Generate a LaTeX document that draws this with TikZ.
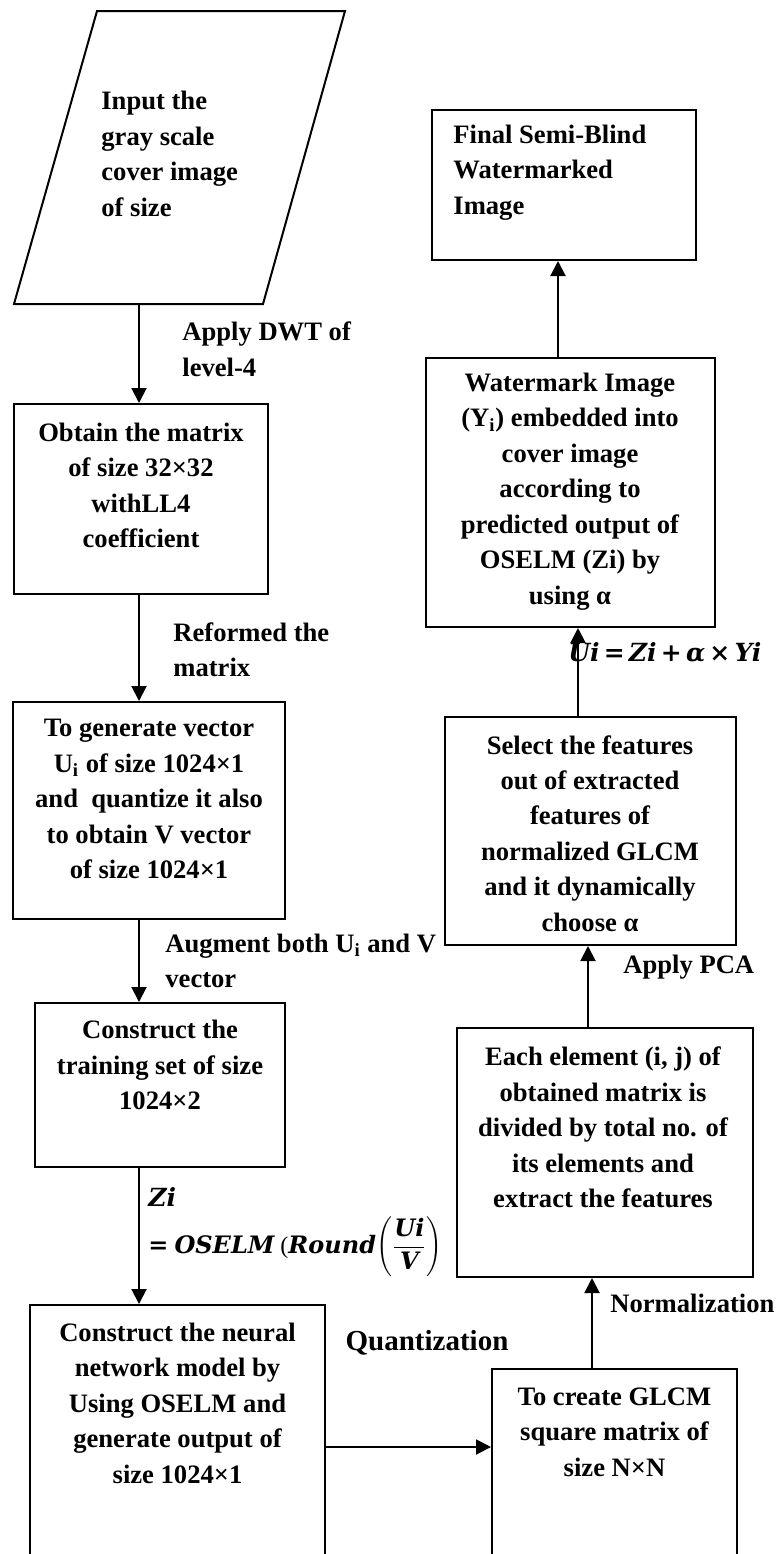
\documentclass[tikz,border=0pt]{standalone}
\usepackage{fontspec}
\setmainfont{Liberation Serif}
\newfontfamily\mathlike{DejaVu Serif}
\usetikzlibrary{arrows.meta,calc}
\newcommand{\bi}[1]{{\mathlike\bfseries\itshape #1}}
\begin{document}
\begin{tikzpicture}[x=0.5pt,y=-0.5pt,
  box/.style={draw,line width=1pt,inner sep=0pt},
  txt/.style={font=\fontsize{13.3}{17.75}\selectfont\bfseries, inner sep=0pt, align=center},
  lbl/.style={font=\fontsize{13.3}{17.75}\selectfont\bfseries, inner sep=0pt, align=left, anchor=west},
  frm/.style={font=\fontsize{12.5}{17}\selectfont, inner sep=0pt, anchor=west},
  arr/.style={line width=1pt, -{Triangle[width=7.5pt,length=7.5pt]}}]
\clip (0,0) rectangle (780,1554);
\fill[white] (0,0) rectangle (780,1554);
% input parallelogram
\coordinate (pa) at (97,11);
\coordinate (pb) at (345,11);
\coordinate (pc) at (263,304);
\coordinate (pd) at (14,304);
\coordinate (pin) at (139,304);
\draw[line width=1pt] (pa) -- (pb) -- (pc) -- (pd) -- cycle;
\node[lbl] (tin) at (101,154) {Input the\\gray scale\\cover image\\of size};
% boxes
\node[box, minimum width=127pt, minimum height=95pt] (b2) at (141,499) {};
\node[txt] (t2) at (141,485.5) {Obtain the matrix\\of size 32×32\\withLL4\\coefficient};
\node[box, minimum width=136pt, minimum height=108.5pt] (b3) at (149,810.5) {};
\node[txt] (t3) at (149,799) {To generate vector\\U\textsubscript{i} of size 1024×1\\and~ quantize it also\\to obtain V vector\\of size 1024×1};
\node[box, minimum width=125pt, minimum height=82pt] (b4) at (160,1085) {};
\node[txt] (t4) at (160,1065) {Construct the\\training set of size\\1024×2};
\node[box, minimum width=147.5pt, minimum height=142pt] (b5) at (177.5,1447) {};
\node[txt] (t5) at (177.5,1403) {Construct the neural\\network model by\\Using OSELM and\\generate output of\\size 1024×1};
\node[box, minimum width=122.5pt, minimum height=125.5pt] (b6) at (614.5,1494.5) {};
\node[txt] (t6) at (614.5,1432) {To create GLCM\\square matrix of\\size N×N};
\node[box, minimum width=148pt, minimum height=124.5pt] (b7) at (605,1152.5) {};
\node[txt] (t7) at (603,1127.5) {Each element (i, j) of\\obtained matrix is\\divided by total no. of\\its elements and\\extract the features};
\node[box, minimum width=145.5pt, minimum height=114pt] (b8) at (590.5,831) {};
\node[txt] (t8) at (590,833.5) {Select the features\\out of extracted\\features of\\normalized GLCM\\and it dynamically\\choose α};
\node[box, minimum width=144.5pt, minimum height=134.5pt] (b9) at (570.5,492.5) {};
\node[txt] (t9) at (570,491.5) {Watermark Image\\(Y\textsubscript{i}) embedded into\\cover image\\according to\\predicted output of\\OSELM (Zi) by\\using α};
\node[box, minimum width=132pt, minimum height=75pt] (b10) at (564,185) {};
\node[lbl] (t10) at (453,172.5) {Final Semi-Blind\\Watermarked\\Image};
% connectors
\coordinate (a6) at ([xshift=-11.25pt]b6.north);
\coordinate (a7) at ([xshift=-8.5pt]b7.north);
\coordinate (a8) at ([xshift=-6.25pt]b8.north);
\coordinate (a9) at ([xshift=-6.25pt]b9.north);
\draw[arr] (pin) -- (pin |- b2.north);
\draw[arr] (b2.south -| pin) -- (b3.north -| pin);
\draw[arr] (b3.south -| pin) -- (b4.north -| pin);
\draw[arr] (b4.south -| pin) -- (b5.north -| pin);
\draw[arr] (b5.east) -- (b5.east -| b6.west);
\draw[arr] (a6) -- (a6 |- b7.south);
\draw[arr] (a7) -- (a7 |- b8.south);
\draw[arr] (a8) -- (a8 |- b9.south);
\draw[arr] (a9) -- (a9 |- b10.south);
% labels
\node[lbl] (l1) at (182,349.5) {Apply DWT of\\level-4};
\node[lbl] (l2) at (173,650) {Reformed the\\matrix};
\node[lbl] (l3) at (165,961) {Augment both U\textsubscript{i} and V\\vector};
\node[frm] (l4a) at (148,1197) {\bi{Zi}};
\node[frm, font=\fontsize{12}{17}\selectfont] (l4b) at (148,1247) {\bi{=} \bi{OSELM} ({\bi{Round}}$\left(\displaystyle\frac{\hbox{\bi{Ui}}}{\hbox{\bi{V}}}\right)$};
\node[font=\fontsize{14.5}{18}\selectfont\bfseries, inner sep=0pt] (l5) at (427,1343) {Quantization};
\node[lbl] (l6) at (610,1303) {Normalization};
\node[lbl] (l7) at (623,967) {Apply PCA};
\node[frm] (l8) at (568,652) {\bi{Ui\,=\,Zi\,+\,α\,×\,Yi}};
\end{tikzpicture}
\end{document}
